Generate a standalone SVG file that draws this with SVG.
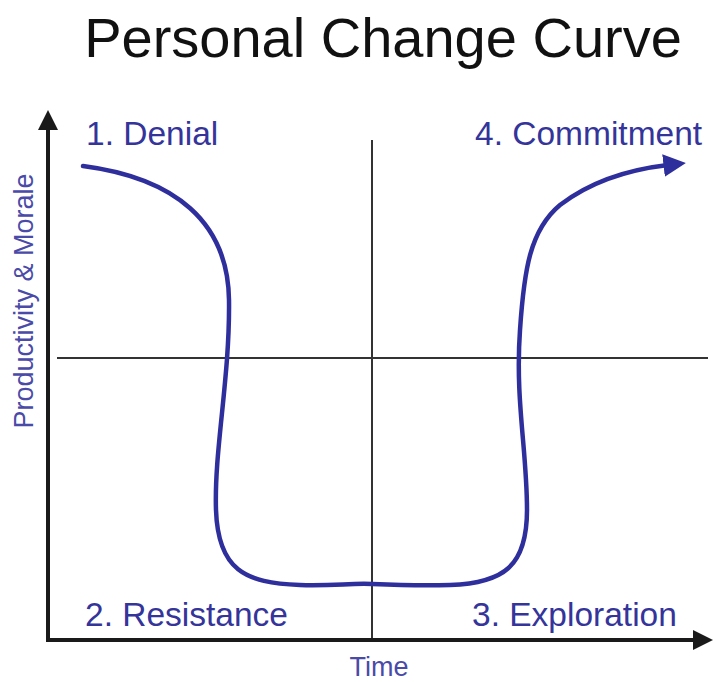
<svg xmlns="http://www.w3.org/2000/svg" width="713" height="682" viewBox="0 0 713 682">
  <style>
    .title { font-family: "Liberation Sans", Arial, sans-serif; font-size: 56px; fill: #111; }
    .lbl { font-family: "Liberation Sans", Arial, sans-serif; font-size: 33.5px; fill: #34349a; }
    .axl { font-family: "Liberation Sans", Arial, sans-serif; font-size: 27px; fill: #4a4aa8; }
    .axis { stroke: #1a1a1a; stroke-width: 4; fill: none; }
    .grid { stroke: #333; stroke-width: 2; fill: none; }
    .curve { stroke: #2e2e9c; stroke-width: 4.5; fill: none; stroke-linecap: round; }
  </style>
  <defs>
    <marker id="axhead" markerWidth="5" markerHeight="5" refX="1" refY="2.5" orient="auto" markerUnits="strokeWidth">
      <path d="M0,0 L5,2.5 L0,5 Z" fill="#1a1a1a"/>
    </marker>
    <marker id="cvhead" markerWidth="5" markerHeight="5" refX="1" refY="2.5" orient="auto" markerUnits="strokeWidth">
      <path d="M0,0 L5,2.5 L0,5 Z" fill="#2e2e9c"/>
    </marker>
  </defs>
  <rect width="713" height="682" fill="#fff"/>
  <text id="title" class="title" x="383" y="57" text-anchor="middle">Personal Change Curve</text>
  <g id="connectors">
    <line class="grid" x1="57" y1="358" x2="708" y2="358"/>
    <line class="grid" x1="372" y1="140" x2="372" y2="638"/>
    <line class="axis" x1="48" y1="641" x2="48" y2="126" marker-end="url(#axhead)"/>
    <line class="axis" x1="46" y1="640" x2="697" y2="640" marker-end="url(#axhead)"/>
    <path class="curve" marker-end="url(#cvhead)" d="M83,166 C175,178 228,222 229,300 C230,378 214,450 216,510 C218,570 245,583 300,585 C335,586 350,583 372,584 C395,585 420,586 450,585 C505,583 527,565 527,510 C527,450 515,400 520,330 C524,270 530,230 560,205 C590,182 625,170 668,165"/>
  </g>
  <g id="denial"><text class="lbl" x="86" y="145">1. Denial</text></g>
  <g id="commitment"><text class="lbl" x="475" y="145">4. Commitment</text></g>
  <g id="resistance"><text class="lbl" x="85" y="626">2. Resistance</text></g>
  <g id="exploration"><text class="lbl" x="472" y="626">3. Exploration</text></g>
  <g id="xlabel"><text class="axl" x="379" y="676" text-anchor="middle" font-size="26">Time</text></g>
  <g id="ylabel"><text class="axl" transform="translate(33,301) rotate(-90)" text-anchor="middle">Productivity &amp; Morale</text></g>
</svg>
